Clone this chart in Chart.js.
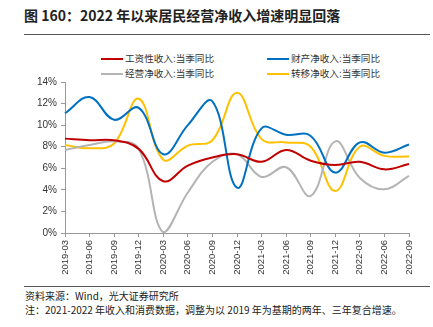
<!DOCTYPE html>
<html>
<head>
<meta charset="utf-8">
<script src="https://cdn.jsdelivr.net/npm/chart.js@4/dist/chart.umd.min.js"></script>
<style>
  body { margin: 0; background: #fff; font-family: "Noto Sans CJK SC", sans-serif; }
  #wrap { position: relative; width: 433px; height: 327px; overflow: hidden; }
  #title { position: absolute; left: 24px; top: 5px; font-size: 14px; font-weight: bold; color: #222; white-space: nowrap; }
  .rule { position: absolute; left: 24px; width: 406px; height: 0; border-top: 1.5px solid #555; }
  #legend { position: absolute; left: 0; top: 51px; width: 433px; }
  .item { position: absolute; font-size: 9.6px; color: #333; white-space: nowrap; line-height: 14px; }
  .item span { display: inline-block; width: 22px; height: 0; border-top: 2px solid; vertical-align: middle; margin-right: 2px; }
  #chartBox { position: absolute; left: 0; top: 72px; width: 433px; height: 212px; }
  .foot { position: absolute; left: 25px; font-size: 10px; color: #222; white-space: nowrap; }
</style>
</head>
<body>
<div id="wrap">
  <div id="title">图 160：2022 年以来居民经营净收入增速明显回落</div>
  <div class="rule" style="top:34px"></div>
  <div id="legend"></div>
  <div id="chartBox"><canvas id="chart"></canvas></div>
  <div class="rule" style="top:286px; border-top-width:1px"></div>
  <div class="foot" style="top:288px">资料来源：Wind，光大证券研究所</div>
  <div class="foot" style="top:302px">注：2021-2022 年收入和消费数据，调整为以 2019 年为基期的两年、三年复合增速。</div>
</div>
<script>
// quarters on the x axis
const quarters = ['2019-03', '2019-06', '2019-09', '2019-12', '2020-03', '2020-06', '2020-09', '2020-12',
                  '2021-03', '2021-06', '2021-09', '2021-12', '2022-03', '2022-06', '2022-09'];

// series values (%)
const wageIncome     = [8.75, 8.6, 8.6, 7.8, 4.8, 6.25, 7.0, 7.3, 6.6, 7.7, 6.7, 6.3, 6.6, 5.9, 6.4];
const propertyIncome = [11.1, 12.6, 10.5, 11.6, 7.3, 10.0, 12.2, 4.2, 9.7, 9.1, 9.0, 5.6, 8.4, 7.45, 8.2];
const businessIncome = [7.7, 8.15, 8.5, 7.8, 0.05, 3.75, 6.6, 7.3, 5.2, 6.1, 3.45, 8.5, 5.1, 4.05, 5.3];
const transferIncome = [8.15, 7.85, 8.3, 12.45, 6.8, 8.1, 8.6, 13.0, 8.7, 8.4, 8.0, 3.9, 8.0, 7.15, 7.1];

// y axis ticks
const yTicks = [0, 2, 4, 6, 8, 10, 12, 14];

const seriesNames = ['工资性收入:当季同比', '财产净收入:当季同比', '经营净收入:当季同比', '转移净收入:当季同比'];
const seriesColors = ['#C00000', '#0070C0', '#B4B4B4', '#FFC000'];
const seriesData = [wageIncome, propertyIncome, businessIncome, transferIncome];

// legend in two columns, same order as the reference
const legendPos = [[101, 0], [267, 0], [101, 15], [267, 15]];
const legend = document.getElementById('legend');
seriesNames.forEach((name, i) => {
    const div = document.createElement('div');
    div.className = 'item';
    div.style.left = legendPos[i][0] + 'px';
    div.style.top = legendPos[i][1] + 'px';
    div.innerHTML = '<span style="border-color:' + seriesColors[i] + '"></span>' + name;
    legend.appendChild(div);
});

const ctx = document.getElementById('chart').getContext('2d');
new Chart(ctx, {
    type: 'line',
    data: {
        labels: quarters,
        datasets: seriesData.map((d, i) => ({
            label: seriesNames[i],
            data: d,
            borderColor: seriesColors[i],
            backgroundColor: seriesColors[i],
            borderWidth: 2,
            pointRadius: 0,
            tension: 0.4,
            fill: false
        }))
    },
    options: {
        responsive: true,
        maintainAspectRatio: false,
        animation: false,
        layout: {
            padding: { top: 7, left: 0, right: 24, bottom: 0 }
        },
        scales: {
            x: {
                offset: false,
                grid: {
                    display: true,
                    drawOnChartArea: false,
                    tickLength: 4,
                    color: '#999'
                },
                border: { display: true, color: '#999' },
                ticks: {
                    minRotation: 90,
                    maxRotation: 90,
                    autoSkip: false,
                    padding: 3,
                    color: '#333',
                    font: { family: 'Liberation Sans', size: 9.5 }
                },
                afterFit: (scale) => { scale.height = 51; }
            },
            y: {
                min: 0,
                max: 14,
                afterBuildTicks: (scale) => { scale.ticks = yTicks.map(v => ({ value: v })); },
                grid: {
                    display: true,
                    drawOnChartArea: false,
                    tickLength: 4,
                    color: '#999'
                },
                border: { display: true, color: '#999' },
                ticks: {
                    padding: 4,
                    color: '#333',
                    font: { family: 'Liberation Sans', size: 10 },
                    callback: (value) => value + '%'
                },
                afterFit: (scale) => { scale.width = 65; }
            }
        },
        plugins: {
            legend: { display: false },
            tooltip: { enabled: false }
        }
    }
});
</script>
</body>
</html>
